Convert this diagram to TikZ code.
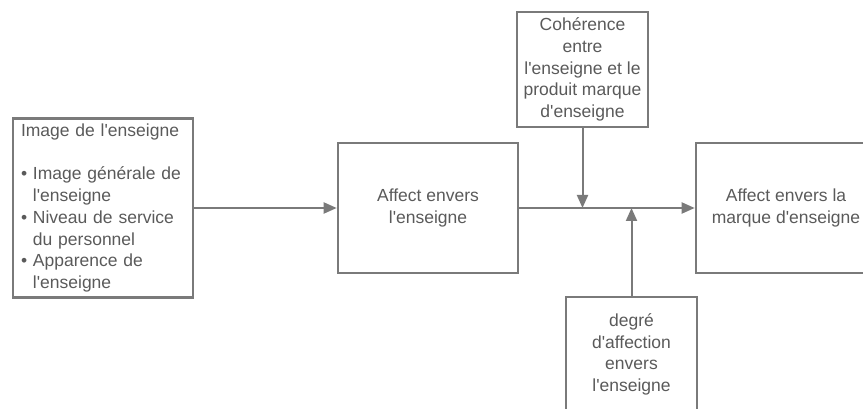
\documentclass[tikz,border=0pt]{standalone}
\usepackage{fontspec}
\setmainfont{Liberation Sans}[Ligatures=TeXOff]
\usetikzlibrary{arrows.meta}
\definecolor{linegray}{HTML}{7A7A7A}
\definecolor{textgray}{HTML}{5A5A5A}
\tikzset{
  box/.style={draw=linegray, line width=2.6pt, rectangle, inner sep=0pt,
    text=textgray, font=\fontsize{17.5}{21.7}\selectfont, align=center},
  arr/.style={draw=linegray, line width=2pt,
    -{Triangle[length=13pt,width=11pt]}},
}
\begin{document}
\begin{tikzpicture}[x=1pt,y=-1pt]
\useasboundingbox (0,0) rectangle (863,409);
\node[box, minimum width=180, minimum height=179, text width=164, align=left] (img) at (103,208)
  {Image de l'enseigne\\[21.7pt]
   • Image générale de\\
   \phantom{•\ }l'enseigne\\
   • Niveau de service\\
   \phantom{•\ }du personnel\\
   • Apparence de\\
   \phantom{•\ }l'enseigne};
\node[box, minimum width=180, minimum height=130] (aff) at (428,208)
  {Affect envers\\l'enseigne};
\node[box, minimum width=180, minimum height=130] (mar) at (786,208)
  {Affect envers la\\marque d'enseigne};
\node[box, minimum width=131, minimum height=115] (coh) at (582.5,69.5)
  {Cohérence\\entre\\l'enseigne et le\\produit marque\\d'enseigne};
\node[box, minimum width=131, minimum height=115] (deg) at (631.5,354.5)
  {degré\\d'affection\\envers\\l'enseigne};
\draw[arr] (img.east) -- (aff.west);
\draw[arr] (aff.east) -- (mar.west);
\draw[arr] (coh.south) -- (coh.south |- aff.east);
\draw[arr] (deg.north) -- (deg.north |- aff.east);
\end{tikzpicture}
\end{document}
